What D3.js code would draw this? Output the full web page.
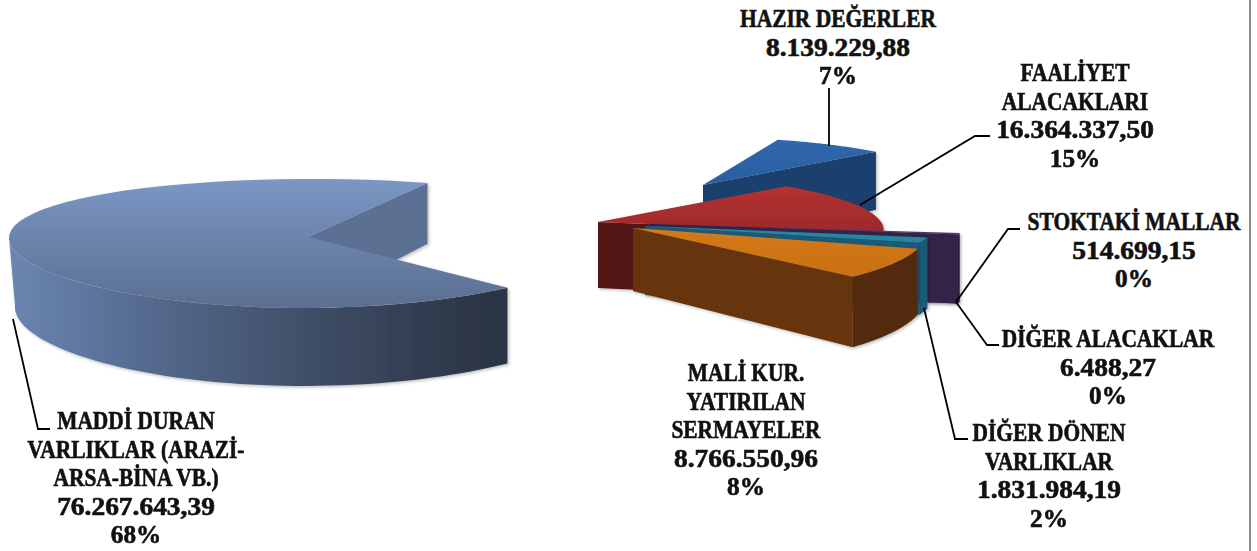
<!DOCTYPE html>
<html><head><meta charset="utf-8">
<script src="https://cdn.jsdelivr.net/npm/d3@7"></script>
<style>html,body{margin:0;padding:0;background:#fff;overflow:hidden}svg{display:block}
text{font-family:"Liberation Serif",serif;font-weight:700;fill:#111;stroke:#111;stroke-width:.6;text-anchor:middle}</style>
</head><body><div id="c"></div>
<script>
// ---- data
const categories = ["HAZIR DEĞERLER","FAALİYET ALACAKLARI","STOKTAKİ MALLAR","DİĞER ALACAKLAR","DİĞER DÖNEN VARLIKLAR","MALİ KUR. YATIRILAN SERMAYELER","MADDİ DURAN VARLIKLAR (ARAZİ-ARSA-BİNA VB.)"];
const values = [8139229.88,16364337.50,514699.15,6488.27,1831984.19,8766550.96,76267643.39];
const valueLabels = ["8.139.229,88","16.364.337,50","514.699,15","6.488,27","1.831.984,19","8.766.550,96","76.267.643,39"];
const percentLabels = ["7%","15%","0%","0%","2%","8%","68%"];
const nameLines = [["HAZIR DEĞERLER"],["FAALİYET","ALACAKLARI"],["STOKTAKİ MALLAR"],["DİĞER ALACAKLAR"],["DİĞER DÖNEN","VARLIKLAR"],["MALİ KUR.","YATIRILAN","SERMAYELER"],["MADDİ DURAN","VARLIKLAR (ARAZİ-","ARSA-BİNA VB.)"]];

// ---- styles and layout
const topColors = [["#3069b0","#255490"],["#bb3433","#8c2424"],["#4d3a70","#4d3a70"],["#4d3a70","#4d3a70"],["#2c8fa8","#24809a"],["#e58620","#c56d14"],["#7d99c8","#5c7092"]];
const radialColors = ["#1c3f6e","#541313","#35204a","#35204a","#1b5a74","#66350a","#5b7093"];
const rimColors = ["#1c3f6e","#541313","#35204a","#35204a","#1b5a74","#532b07",null];
const geometry = [
 {cx:703,cy:185,rx:250,ry:54,sk:23,d0:64,d1:9,lean:0},
 {cx:598,cy:222,rx:283,ry:58,sk:37,d0:66,d1:9,lean:0},
 {cx:650,cy:224,rx:316,ry:45,sk:0,d0:67,d1:9,lean:0},
 {cx:650,cy:224,rx:316,ry:45,sk:0,d0:67,d1:9,lean:0},
 {cx:645,cy:226,rx:290,ry:50,sk:0,d0:69,d1:9,lean:0},
 {cx:633,cy:228,rx:290,ry:62,sk:31,d0:63,d1:10,lean:0},
 {cx:308,cy:237,rx:299,ry:64.5,sk:-5,d0:69,d1:9,lean:6}
];
const labelPos = [
 {x:838,y:27},{x:1075,y:81},{x:1134,y:230},{x:1108,y:347},{x:1049,y:441},{x:746,y:381},{x:136,y:429}
];
const leaders = [
 [[829,88],[829,146]],
 [[860,205],[975,136],[990,136]],
 [[956,302],[1008,229],[1020,229]],
 [[956,302],[987,345],[999,345]],
 [[924,308],[955,439],[968,439]],
 [[13,319],[38,429],[50,429]]
];
const W=1257,H=551,lineStep=28.6,persp=0.1,fontSize=24.5;
const nameStretch=.875,valueStretch=1.12,percentStretch=1.03;
const rotation=22.6*Math.PI/180;

const svg=d3.select("#c").append("svg").attr("width",W).attr("height",H);
const defs=svg.append("defs");
const f=defs.append("filter").attr("id","soft").attr("x","-5%").attr("y","-5%").attr("width","112%").attr("height","115%");
f.append("feDropShadow").attr("dx",1.5).attr("dy",1.5).attr("stdDeviation",1.5).attr("flood-color","#000").attr("flood-opacity",.25);
const f2=defs.append("filter").attr("id","blur");
f2.append("feGaussianBlur").attr("stdDeviation",.5);

const slices=d3.pie().sort(null).startAngle(rotation).endAngle(rotation+2*Math.PI)(values);
const line=d3.line();

function pt(g,a,r=1){
  const X=Math.sin(a),Y=-Math.cos(a);
  return [g.cx+r*(X*g.rx+g.sk*Y), g.cy+r*Y*g.ry*(1+persp*r*Y)];
}
function dep(g,a,r=1){return g.d0+g.d1*r*(-Math.cos(a));}
const down=(g,a,r=1)=>{const p=pt(g,a,r);return [p[0]+g.lean*r*Math.max(0,-Math.sin(a)),p[1]+dep(g,a,r)];};
function samples(a0,a1){return d3.range(0,61).map(i=>a0+(a1-a0)*i/60);}

slices.forEach((s,i)=>{
  const gr=defs.append("linearGradient").attr("id","top"+i).attr("gradientUnits","userSpaceOnUse")
    .attr("x1",0).attr("x2",0);
  const g=geometry[i];
  gr.attr("y1",g.cy-g.ry).attr("y2",g.cy+g.ry);
  gr.append("stop").attr("offset",0).attr("stop-color",topColors[i][0]);
  gr.append("stop").attr("offset",1).attr("stop-color",topColors[i][1]);
});
const bigRim=defs.append("linearGradient").attr("id","bigRim").attr("gradientUnits","userSpaceOnUse")
  .attr("x1",8).attr("x2",505).attr("y1",0).attr("y2",0);
[[0,"#6a86b2"],[.25,"#576d92"],[.55,"#43536d"],[.8,"#343f54"],[1,"#2a3444"]].forEach(d=>bigRim.append("stop").attr("offset",d[0]).attr("stop-color",d[1]));

const wrap=svg.append("g").attr("filter","url(#blur)");
function drawSlice(i,parent){
  const s=slices[i],g=geometry[i],G=parent;
  const a0=s.startAngle,a1=s.endAngle;
  [[a0,-Math.sin(a0)],[a1,Math.sin(a1)]].forEach(([a,vis])=>{
    if(vis>0){
      G.append("path").attr("d",line([pt(g,a,0),pt(g,a),down(g,a),down(g,a,0)])+"Z")
        .attr("fill",radialColors[i]);
    }
  });
  const lo=Math.max(a0,Math.PI/2),hi=Math.min(a1,1.5*Math.PI);
  if(hi>lo){
    const arc=samples(lo,hi);
    const poly=arc.map(a=>pt(g,a)).concat(arc.slice().reverse().map(a=>down(g,a)));
    G.append("path").attr("d",line(poly)+"Z").attr("fill",rimColors[i]||"url(#bigRim)");
  }
  const arc=samples(a0,a1);
  G.append("path").attr("d",line([pt(g,a0,0)].concat(arc.map(a=>pt(g,a))))+"Z").attr("fill",`url(#top${i})`);
}
const big=wrap.append("g").attr("filter","url(#soft)");
drawSlice(6,big);
[0,1,2,3,4,5].forEach(i=>drawSlice(i,wrap.append("g").attr("filter","url(#soft)")));

svg.append("g").selectAll("path").data(leaders).join("path")
  .attr("d",d=>line(d)).attr("fill","none").attr("stroke","#000").attr("stroke-width",1.8);

const lab=svg.append("g").attr("font-size",fontSize);
categories.forEach((c,i)=>{
  const lines=nameLines[i].map(l=>[l,nameStretch]).concat([[valueLabels[i],valueStretch],[percentLabels[i],percentStretch]]);
  lines.forEach(([l,st],j)=>lab.append("text")
    .attr("transform",`translate(${labelPos[i].x},${labelPos[i].y+j*lineStep}) scale(${st},1)`).text(l));
});

svg.append("line").attr("x1",1250).attr("x2",1250).attr("y1",0).attr("y2",H).attr("stroke","#8c8c8c").attr("stroke-width",2);
</script></body></html>
